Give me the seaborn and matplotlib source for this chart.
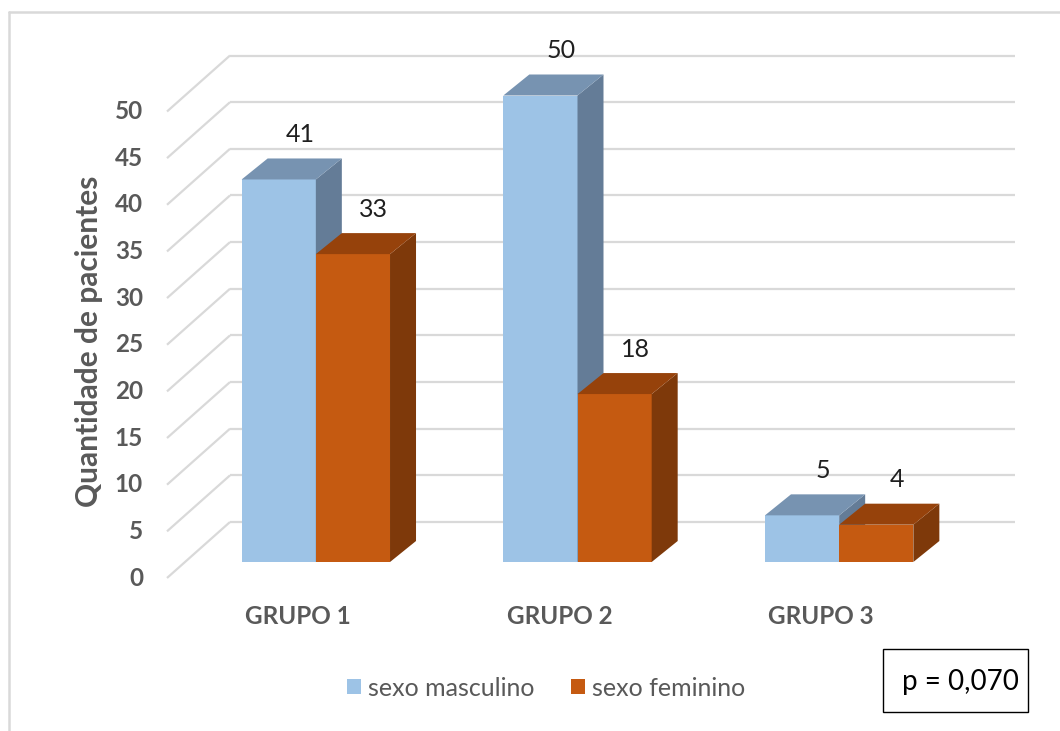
import matplotlib
matplotlib.use("Agg")
import matplotlib.pyplot as plt
from matplotlib.patches import Polygon, Rectangle
from matplotlib.lines import Line2D
import pandas as pd
import seaborn as sns

# ---- data ----
grupos = ["GRUPO 1", "GRUPO 2", "GRUPO 3"]
masculino = [41, 50, 5]
feminino = [33, 18, 4]
series_labels = ["sexo masculino", "sexo feminino"]
y_ticks = [0, 5, 10, 15, 20, 25, 30, 35, 40, 45, 50]
y_label = "Quantidade de pacientes"
p_text = "p = 0,070"

# ---- styling ----
front_colors = ["#9DC3E6", "#C55A11"]
top_colors = ["#7793B1", "#96420B"]
side_colors = ["#647C97", "#7E390A"]
grid_color = "#D9D9D9"
text_gray = "#595959"

sns.set_theme(style="white")
plt.rcParams["font.family"] = ["Lato", "DejaVu Sans"]

W, H = 1060, 731
fig = plt.figure(figsize=(W / 100, H / 100), dpi=100)


def fx(px):
    return px / W


def fy(py):
    return 1 - py / H


# front plane of the bars
X_L, X_R, Y_0, Y_50 = 185, 970, 562, 95.5
ax = fig.add_axes([fx(X_L), fy(Y_0), (X_R - X_L) / W, (Y_0 - Y_50) / H])

df = pd.DataFrame({
    "grupo": grupos * 2,
    "sexo": [series_labels[0]] * len(grupos) + [series_labels[1]] * len(grupos),
    "n": masculino + feminino,
})
palette = dict(zip(series_labels, front_colors))
sns.barplot(data=df, x="grupo", y="n", hue="sexo", order=grupos,
            hue_order=series_labels, palette=palette, width=0.567,
            saturation=1, linewidth=0, legend=False, ax=ax)
ax.set_xlim(-0.5, 2.5)
ax.set_ylim(0, 50)
ax.set_axis_off()

# pixel -> data scale for the perspective offsets
px_x = (X_R - X_L) / 3.0
px_y = (Y_0 - Y_50) / 50.0
bar_dx, bar_dy = 26 / px_x, 21 / px_y        # bar depth
wall_dx, wall_dy = 45 / px_x, 40 / px_y      # back wall
floor_dx, floor_dy = -18 / px_x, -16 / px_y  # front edge of the floor

# gridlines: back wall + left wall diagonals
x_left, x_right = -0.5, 2.5
for v in y_ticks:
    ax.plot([x_left + wall_dx, x_right + wall_dx], [v + wall_dy, v + wall_dy],
            color=grid_color, lw=1.6, zorder=1, clip_on=False,
            solid_capstyle="butt")
    ax.plot([x_left + floor_dx, x_left + wall_dx], [v + floor_dy, v + wall_dy],
            color=grid_color, lw=1.6, zorder=1, clip_on=False,
            solid_capstyle="butt")
    ax.annotate(str(v), xy=(x_left + floor_dx, v + floor_dy),
                xytext=(-24, 0), textcoords="offset pixels",
                ha="right", va="center", fontsize=17.5, fontweight="bold",
                color=text_gray, annotation_clip=False)

# 3D faces and value labels
for k, cont in enumerate(ax.containers):
    for bar in cont:
        x0, w, h = bar.get_x(), bar.get_width(), bar.get_height()
        x1 = x0 + w
        bar.set_zorder(3 + k)
        bar.set_clip_on(False)
        top = Polygon([(x0, h), (x1, h), (x1 + bar_dx, h + bar_dy),
                       (x0 + bar_dx, h + bar_dy)],
                      closed=True, fc=top_colors[k], lw=0,
                      zorder=3.2 + k, clip_on=False)
        side = Polygon([(x1, 0), (x1, h), (x1 + bar_dx, h + bar_dy),
                        (x1 + bar_dx, bar_dy)],
                       closed=True, fc=side_colors[k], lw=0,
                       zorder=3.1 + k, clip_on=False)
        ax.add_patch(top)
        ax.add_patch(side)
        ax.annotate(f"{h:g}", xy=(x0 + w / 2 + bar_dx, h + bar_dy),
                    xytext=(-5, 24), textcoords="offset pixels",
                    ha="center", va="center", fontsize=18,
                    color="#1F1F1F", annotation_clip=False, zorder=6)

# category labels on the floor edge
for i, g in enumerate(grupos):
    ax.annotate(g, xy=(i + floor_dx, 0), xytext=(0, -55),
                textcoords="offset pixels", ha="center", va="center",
                fontsize=17.5, fontweight="bold", color=text_gray,
                annotation_clip=False)

fig.text(fx(89), fy(341), y_label, rotation=90, ha="center", va="center",
         fontsize=21.5, fontweight="bold", color=text_gray)

# legend
handles = [Rectangle((0, 0), 1, 1, fc=c, ec="none") for c in front_colors]
fs_leg = 18
em = fs_leg * 100 / 72
ax.legend(handles, series_labels, loc="center",
          bbox_to_anchor=(fx(546), fy(688)), bbox_transform=fig.transFigure,
          ncol=2, frameon=False, fontsize=fs_leg, labelcolor=text_gray,
          handlelength=14 / em, handleheight=14 / em,
          handletextpad=7 / em, columnspacing=36 / em, borderpad=0)

# p-value box
fig.add_artist(Rectangle((fx(883), fy(712)), (1028 - 883) / W, (712 - 649) / H,
                         transform=fig.transFigure, fill=False,
                         ec="black", lw=1.0))
fig.text(fx(960), fy(682), p_text, ha="center", va="center",
         fontsize=20, color="black")

# chart area border
fig.add_artist(Line2D([fx(9), fx(9)], [0, fy(12)], transform=fig.transFigure,
                      color=grid_color, lw=1.8))
fig.add_artist(Line2D([fx(9), 1], [fy(12), fy(12)], transform=fig.transFigure,
                      color=grid_color, lw=1.8))

fig.savefig("out.png", dpi=100)
